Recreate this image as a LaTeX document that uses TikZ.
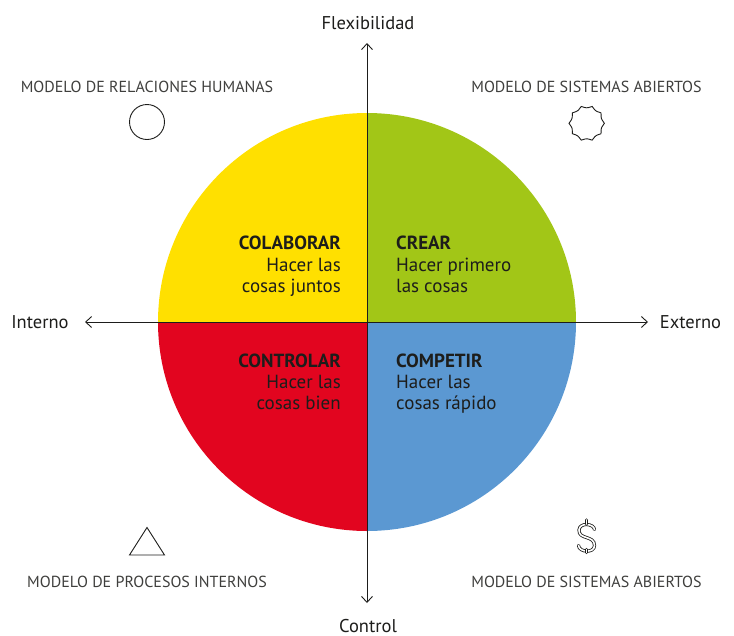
\documentclass[tikz,border=0pt]{standalone}
\usepackage{fontspec}
\setmainfont{PT Sans}
\usetikzlibrary{arrows.meta}
\definecolor{cyel}{HTML}{FFE000}
\definecolor{cgrn}{HTML}{A2C617}
\definecolor{cred}{HTML}{E2051F}
\definecolor{cblu}{HTML}{5B98D2}
\definecolor{cink}{HTML}{1D1D1B}
\tikzset{
 quadtext/.style={font=\fontsize{19}{21.3}\selectfont,text=cink,inner sep=0pt},
 modeltext/.style={font=\fontsize{16}{18}\selectfont,text=cink!85,inner sep=0pt,anchor=base},
 axistext/.style={font=\fontsize{18.5}{20}\selectfont,text=cink,inner sep=0pt,anchor=base},
 axisline/.style={draw=cink,line width=.9pt,-{Straight Barb[length=6pt,width=11pt,line width=.9pt]}},
 iconline/.style={draw=cink,line width=.9pt}
}
\begin{document}
\begin{tikzpicture}[x=1pt,y=-1pt]
\useasboundingbox (0,0) rectangle (734,635);
\coordinate (c) at (367,322);
\fill[cyel] (c) -- (158,322) arc[start angle=180,end angle=90,x radius=209,y radius=-209] -- cycle;
\fill[cgrn] (c) -- (367,113) arc[start angle=90,end angle=0,x radius=209,y radius=-209] -- cycle;
\fill[cblu] (c) -- (576,322) arc[start angle=0,end angle=-90,x radius=209,y radius=-209] -- cycle;
\fill[cred] (c) -- (367,531) arc[start angle=-90,end angle=-180,x radius=209,y radius=-209] -- cycle;
\coordinate (top) at (367,43);
\coordinate (bot) at (367,603);
\coordinate (lft) at (85,322);
\coordinate (rgt) at (648,322);
\draw[axisline] (c) -- (top);
\draw[axisline] (c) -- (bot);
\draw[axisline] (c) -- (lft);
\draw[axisline] (c) -- (rgt);
\node[axistext] (flex) at (368,29) {Flexibilidad};
\node[axistext] (control) at (368,632) {Control};
\node[axistext] (interno) at (40,328) {Interno};
\node[axistext] (externo) at (690.5,328) {Externo};
\node[modeltext] (m1) at (147,92) {MODELO DE RELACIONES HUMANAS};
\node[modeltext] (m2) at (586.5,92) {MODELO DE SISTEMAS ABIERTOS};
\node[modeltext] (m3) at (147,587) {MODELO DE PROCESOS INTERNOS};
\node[modeltext] (m4) at (586.5,587) {MODELO DE SISTEMAS ABIERTOS};
\node[quadtext,align=right,anchor=north east] (q1) at (341,236) {\textbf{COLABORAR}\\Hacer las\\cosas juntos};
\node[quadtext,align=left,anchor=north west] (q2) at (396,236) {\textbf{CREAR}\\Hacer primero\\las cosas};
\node[quadtext,align=right,anchor=north east] (q3) at (341,353.5) {\textbf{CONTROLAR}\\Hacer las\\cosas bien};
\node[quadtext,align=left,anchor=north west] (q4) at (396,353.5) {\textbf{COMPETIR}\\Hacer las\\cosas rápido};
\draw[iconline] (147,122) circle[radius=17.5];
\draw[iconline] (147,527.5) -- (164.5,555) -- (129.5,555) -- cycle;
\draw[iconline] plot[samples at={0,6,...,354}] ({586.7+(17.7-2.2*abs(sin(5*\x)))*cos(\x)},{123.3+(17.7-2.2*abs(sin(5*\x)))*sin(\x)}) -- cycle;
\draw[cink,line width=.8pt,double=white,double distance=1.6pt,line cap=round]
 (594.5,529.5) .. controls (594,523.5) and (579.5,522) .. (579,530)
 .. controls (578.5,540) and (594.5,535) .. (594.5,545.5)
 .. controls (594.5,553.5) and (579,552.5) .. (578.5,545.5);
\draw[cink,line width=.8pt,double=white,double distance=1.6pt,line cap=round] (586.5,520) -- (586.5,524) (586.5,549.5) -- (586.5,552.5);
\end{tikzpicture}
\end{document}
